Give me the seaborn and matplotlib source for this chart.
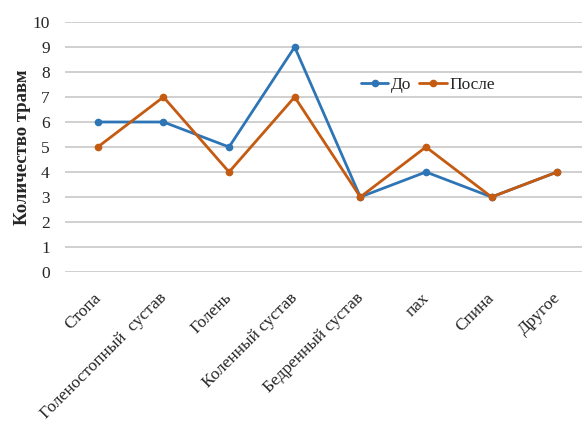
import matplotlib
matplotlib.use("Agg")
import matplotlib.pyplot as plt
import matplotlib.transforms as mtransforms
import seaborn as sns
import pandas as pd

categories = ["Стопа", "Голеностопный  сустав", "Голень", "Коленный сустав",
              "Бедренный сустав", "пах", "Спина", "Другое"]
before = [6, 6, 5, 9, 3, 4, 3, 4]
after = [5, 7, 4, 7, 3, 5, 3, 4]
series_names = ["До", "После"]
y_ticks = list(range(0, 11))

sns.set_theme(style="white")
plt.rcParams["font.family"] = "serif"
plt.rcParams["font.serif"] = ["Liberation Serif", "DejaVu Serif"]

df = pd.DataFrame({
    "pos": list(range(len(categories))) * 2,
    "value": before + after,
    "series": [series_names[0]] * len(categories) + [series_names[1]] * len(categories),
})

fig = plt.figure(figsize=(5.82, 4.21), dpi=100)
ax = fig.add_axes([65 / 582, 149 / 421, 517 / 582, 250 / 421])

palette = {"До": "#2E75B6", "После": "#C55A11"}
sns.lineplot(data=df, x="pos", y="value", hue="series", palette=palette,
             marker="o", markersize=5.5, markeredgewidth=0, linewidth=2.0,
             ax=ax, legend=True)

ax.set_xlim(-0.5, 7.5 - 8 / 65.7)
ax.set_ylim(0, 10)
ax.set_yticks(y_ticks)
ax.set_yticklabels([str(v) for v in y_ticks], fontsize=12.5)
ax.yaxis.grid(True, color="#C8C8C8", linewidth=1.2)
ax.set_axisbelow(True)
for s in ax.spines.values():
    s.set_visible(False)
ax.tick_params(axis="both", length=0)
ax.tick_params(axis="y", pad=11)

ax.set_xticks(range(len(categories)))
ax.set_xticklabels(categories, rotation=45, ha="right", va="top",
                   rotation_mode="anchor", fontsize=12.5)
ax.tick_params(axis="x", pad=13)
shift = mtransforms.ScaledTranslation(-5 / 100, 0, fig.dpi_scale_trans)
for lbl in ax.get_xticklabels():
    lbl.set_transform(lbl.get_transform() + shift)
ax.set_xlabel("")
ax.set_ylabel("Количество травм", fontsize=13.5, fontweight="bold", labelpad=1)

leg = ax.legend(loc="center", bbox_to_anchor=(0.702, 0.748), ncol=2, frameon=False,
                fontsize=12.5, handlelength=1.6, columnspacing=0.45, handletextpad=0.15)

fig.savefig("out.png", dpi=100)
